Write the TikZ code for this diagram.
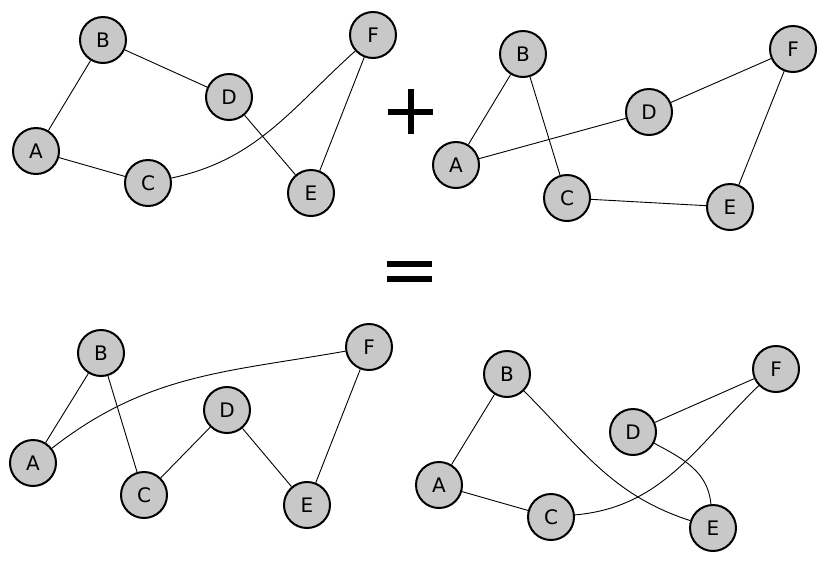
\documentclass[tikz,border=0pt]{standalone}
\usepackage{fontspec}
\setmainfont{DejaVu Sans}
\begin{document}
\begin{tikzpicture}[x=1pt,y=1pt,
  vtx/.style={circle,draw=black,line width=2pt,fill={rgb,255:red,200;green,200;blue,200},minimum size=46pt,inner sep=0pt,font=\fontsize{20}{20}\selectfont},
  edge/.style={line width=0.9pt},
  sym/.style={line width=6.5pt}]
\useasboundingbox[fill=white] (0,0) rectangle (840,-566);
% top left
\node[vtx] (a1) at (36,-151) {A};
\node[vtx] (b1) at (103,-40) {B};
\node[vtx] (c1) at (148,-183) {C};
\node[vtx] (d1) at (229,-97) {D};
\node[vtx] (e1) at (311,-193) {E};
\node[vtx] (f1) at (373,-35) {F};
\draw[edge] (a1) -- (b1);
\draw[edge] (b1) -- (d1);
\draw[edge] (a1) -- (c1);
\draw[edge] (d1) -- (e1);
\draw[edge] (f1) -- (e1);
\draw[edge] (c1) to[out=12,in=-138] (f1);
% top right
\node[vtx] (a2) at (456,-165) {A};
\node[vtx] (b2) at (523,-54) {B};
\node[vtx] (c2) at (567,-198) {C};
\node[vtx] (d2) at (649,-112) {D};
\node[vtx] (e2) at (730,-207) {E};
\node[vtx] (f2) at (793,-49) {F};
\draw[edge] (a2) -- (b2);
\draw[edge] (b2) -- (c2);
\draw[edge] (a2) -- (d2);
\draw[edge] (d2) -- (f2);
\draw[edge] (f2) -- (e2);
\draw[edge] (c2) -- (e2);
% plus and equals
\coordinate (pl) at (388,-112);
\coordinate (pr) at (433,-112);
\coordinate (pt) at (411,-89);
\coordinate (pb) at (411,-134);
\draw[sym] (pl) -- (pr);
\draw[sym] (pt) -- (pb);
\coordinate (e1l) at (387,-264);
\coordinate (e1r) at (432,-264);
\coordinate (e2l) at (387,-279);
\coordinate (e2r) at (432,-279);
\draw[line width=5.5pt] (e1l) -- (e1r);
\draw[line width=5.5pt] (e2l) -- (e2r);
% bottom left
\node[vtx] (a3) at (33,-463) {A};
\node[vtx] (b3) at (101,-353) {B};
\node[vtx] (c3) at (144,-495) {C};
\node[vtx] (d3) at (227,-410) {D};
\node[vtx] (e3) at (307,-505) {E};
\node[vtx] (f3) at (369,-347) {F};
\draw[edge] (a3) -- (b3);
\draw[edge] (b3) -- (c3);
\draw[edge] (c3) -- (d3);
\draw[edge] (d3) -- (e3);
\draw[edge] (f3) -- (e3);
\draw[edge] (a3) to[out=38,in=-170] (f3);
% bottom right
\node[vtx] (a4) at (439,-485) {A};
\node[vtx] (b4) at (507,-374) {B};
\node[vtx] (c4) at (551,-517) {C};
\node[vtx] (d4) at (633,-432) {D};
\node[vtx] (e4) at (713,-528) {E};
\node[vtx] (f4) at (776,-369) {F};
\draw[edge] (a4) -- (b4);
\draw[edge] (a4) -- (c4);
\draw[edge] (d4) -- (f4);
\draw[edge] (b4) to[out=-45,in=162] (e4);
\draw[edge] (c4) to[out=5,in=-136] (f4);
\draw[edge] (d4) to[out=-28,in=95] (e4);
\end{tikzpicture}
\end{document}
